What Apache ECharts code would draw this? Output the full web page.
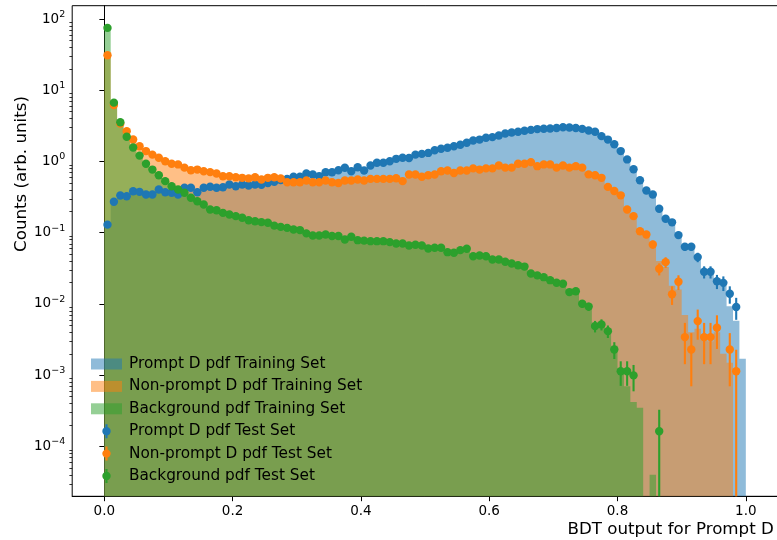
<!DOCTYPE html>
<html><head><meta charset="utf-8">
<script src="https://cdn.jsdelivr.net/npm/echarts@6/dist/echarts.min.js"></script>
<style>html,body{margin:0;padding:0;background:#fff}#c{width:777px;height:540px}</style>
</head><body><div id="c"></div>
<script>
// ---- data ----
const nBins = 100, xLow = 0, xHigh = 1;
const xTicks = [0, 0.2, 0.4, 0.6, 0.8, 1.0];
const yTicks = [1e-4, 1e-3, 1e-2, 1e-1, 1, 10, 100];
const yMin = 2e-5, yMax = 153.7;

const promptTrain = [0.12,0.28,0.33,0.34,0.36,0.37,0.37,0.37,0.38,0.38,
 0.38,0.38,0.40,0.41,0.41,0.42,0.43,0.43,0.44,0.45,
 0.45,0.46,0.46,0.47,0.48,0.50,0.52,0.54,0.57,0.59,
 0.61,0.64,0.65,0.66,0.69,0.71,0.74,0.77,0.78,0.80,
 0.82,0.86,0.92,0.96,1.01,1.07,1.11,1.15,1.22,1.27,
 1.32,1.42,1.50,1.56,1.64,1.72,1.82,1.94,2.02,2.12,
 2.2,2.3,2.44,2.53,2.61,2.69,2.77,2.83,2.87,2.9,
 2.94,3.0,2.98,2.93,2.85,2.72,2.58,2.3,2.05,1.76,
 1.42,1.08,0.8,0.56,0.4,0.33,0.22,0.16,0.135,0.095,
 0.066,0.06,0.045,0.03,0.027,0.021,0.018,0.0093,0.0058,0.0017];
const nonpromptTrain = [31,6.3,3.4,2.6,2.05,1.66,1.42,1.25,1.12,1.02,
 0.95,0.89,0.83,0.78,0.75,0.72,0.70,0.67,0.64,0.62,
 0.61,0.59,0.58,0.58,0.57,0.58,0.58,0.56,0.54,0.53,
 0.52,0.52,0.52,0.52,0.52,0.52,0.52,0.53,0.54,0.54,
 0.55,0.56,0.56,0.57,0.57,0.58,0.59,0.62,0.64,0.63,
 0.64,0.66,0.70,0.72,0.72,0.74,0.75,0.78,0.78,0.79,
 0.81,0.84,0.84,0.85,0.88,0.90,0.91,0.89,0.89,0.88,
 0.86,0.85,0.84,0.83,0.79,0.69,0.63,0.56,0.46,0.39,
 0.31,0.22,0.17,0.115,0.09,0.065,0.04,0.033,0.018,0.016,
 0.007,0.004,0.0045,0.0035,0.003,0.004,0.002,0.0015,0,0];
const bkgTrain = [75,6.6,3.5,2.25,1.58,1.2,0.94,0.77,0.64,0.54,
 0.46,0.40,0.36,0.315,0.28,0.25,0.22,0.205,0.19,0.18,
 0.17,0.16,0.152,0.145,0.14,0.135,0.127,0.121,0.116,0.111,
 0.106,0.099,0.094,0.092,0.092,0.089,0.087,0.083,0.084,0.079,
 0.077,0.076,0.075,0.074,0.072,0.071,0.069,0.067,0.066,0.065,
 0.061,0.06,0.058,0.055,0.054,0.055,0.054,0.049,0.047,0.046,
 0.043,0.041,0.039,0.037,0.035,0.032,0.028,0.025,0.023,0.021,
 0.019,0.018,0.015,0.014,0.011,0.009,0.0055,0.005,0.0042,0.0026,
 0.0012,0.0007,0.00042,0.00035,0,0.00004,0,0,0,0,
 0,0,0,0,0,0,0,0,0,0];

const promptTest = [0.13,0.272,0.333,0.326,0.383,0.375,0.344,0.344,0.405,0.371,
 0.364,0.344,0.428,0.428,0.371,0.428,0.442,0.428,0.436,0.476,
 0.45,0.476,0.46,0.476,0.47,0.50,0.52,0.55,0.57,0.61,
 0.61,0.68,0.657,0.62,0.708,0.708,0.755,0.816,0.73,0.832,
 0.748,0.88,0.96,0.96,1.01,1.09,1.13,1.12,1.25,1.28,
 1.32,1.44,1.51,1.56,1.64,1.72,1.83,1.97,2.03,2.15,
 2.2,2.32,2.47,2.55,2.62,2.7,2.78,2.85,2.88,2.9,
 2.95,3.03,3.0,2.95,2.87,2.72,2.61,2.27,2.03,1.75,
 1.40,1.07,0.78,0.546,0.392,0.344,0.217,0.157,0.14,0.0927,
 0.0636,0.0636,0.0455,0.0283,0.0283,0.0209,0.0198,0.0139,0.0091,0];
const nonpromptTest = [31,6.2,3.4,2.66,2.04,1.64,1.40,1.25,1.13,1.01,
 0.93,0.91,0.82,0.755,0.77,0.73,0.71,0.68,0.62,0.62,
 0.60,0.59,0.58,0.60,0.56,0.59,0.60,0.577,0.512,0.512,
 0.512,0.541,0.512,0.512,0.541,0.512,0.50,0.541,0.541,0.56,
 0.541,0.57,0.57,0.57,0.57,0.583,0.53,0.657,0.657,0.61,
 0.64,0.657,0.73,0.748,0.69,0.748,0.748,0.80,0.77,0.80,
 0.80,0.88,0.82,0.82,0.93,0.93,0.98,0.86,0.91,0.91,
 0.82,0.88,0.82,0.86,0.82,0.66,0.64,0.59,0.44,0.385,
 0.335,0.212,0.171,0.105,0.0946,0.0685,0.0312,0.0387,0.0137,0.0205,
 0.00343,0.0023,0.00575,0.00343,0.00343,0.00464,0,0.0023,0.00114,0];
const bkgTest = [75,6.7,3.56,2.22,1.57,1.21,0.93,0.77,0.64,0.53,
 0.45,0.405,0.364,0.31,0.277,0.249,0.212,0.207,0.19,0.18,
 0.171,0.162,0.15,0.145,0.141,0.138,0.126,0.121,0.117,0.111,
 0.109,0.098,0.0916,0.0916,0.0946,0.090,0.090,0.0805,0.0879,0.0787,
 0.0776,0.0762,0.0762,0.0762,0.0738,0.0708,0.0708,0.0663,0.068,0.0663,
 0.060,0.0615,0.0615,0.0534,0.0525,0.057,0.0596,0.0469,0.048,0.0469,
 0.0422,0.0422,0.0392,0.037,0.035,0.0335,0.0268,0.0252,0.0238,0.0216,
 0.0199,0.0192,0.0147,0.0151,0.0101,0.0092,0.00489,0.00517,0.00416,0.0023,
 0.00114,0.00114,0.000995,0,0,0,0.000164,0,0,0,
 0,0,0,0,0,0,0,0,0,0];

// error bars of the test sets (bins 80..99)
const promptTestErrTail = [0,0,0,0.024,0.0204,0.0191,0.0152,0.0129,0.0122,0.0099,
 0.0082,0.0082,0.0069,0.0055,0.0055,0.0047,0.0046,0.0038,0.0031,0];
const nonpromptTestErrTail = [0.0195,0.0155,0.014,0.0109,0.0104,0.0088,0.006,0.0066,0.004,0.0048,
 0.002,0.0016,0.0026,0.002,0.002,0.0023,0,0.0016,0.00114,0];
// error bars of background test set (bins 66..86)
const bkgTestErrTail = [0.0021,0.002,0.002,0.0019,0.0018,0.0018,0.00155,0.00157,0.00129,0.00123,
 0.0009,0.00092,0.00083,0.00061,0.00043,0.00043,0.0004,0,0,0,0.000164];

// ---- drawing ----
const FONT = 'DejaVu Sans';
const binW = (xHigh - xLow) / nBins;
const COL = { blue: '#1f77b4', orange: '#ff7f0e', green: '#2ca02c' };
const FILL = { blue: 'rgba(31,119,180,0.5)', orange: 'rgba(255,127,14,0.5)', green: 'rgba(44,160,44,0.5)' };

function errAt(tail, start, i) { const k = i - start; return (k >= 0 && k < tail.length) ? tail[k] : 0; }

function histSeries(name, vals, fill, z) {
  return {
    type: 'custom', name, coordinateSystem: 'cartesian2d', silent: true, z,
    itemStyle: { color: fill }, data: [[0.5, 1]],
    renderItem(params, api) {
      const pts = [api.coord([xLow, yMin])];
      for (let i = 0; i < vals.length; i++) {
        const v = vals[i] > yMin ? vals[i] : yMin;
        const x0 = xLow + i * binW, x1 = x0 + binW;
        pts.push(api.coord([x0, v]), api.coord([x1, v]));
      }
      pts.push(api.coord([xHigh, yMin]));
      return { type: 'polygon', shape: { points: pts }, style: { fill } };
    }
  };
}
function testSeries(name, vals, tail, start, color, z) {
  const data = [];
  vals.forEach((v, i) => { if (v > 0) data.push([xLow + (i + 0.5) * binW, v, errAt(tail, start, i)]); });
  return {
    type: 'custom', name, coordinateSystem: 'cartesian2d', silent: true, z,
    itemStyle: { color }, data,
    encode: { x: 0, y: 1 },
    renderItem(params, api) {
      const x = api.value(0), v = api.value(1), e = api.value(2);
      const c = api.coord([x, v]);
      const ch = [];
      if (e > 0) {
        const top = api.coord([x, v + e]);
        const lo = (v - e) > yMin ? v - e : yMin;
        const bot = api.coord([x, lo]);
        ch.push({ type: 'line', shape: { x1: c[0], y1: top[1], x2: c[0], y2: bot[1] }, style: { stroke: color, lineWidth: 2.1 } });
      }
      ch.push({ type: 'circle', shape: { cx: c[0], cy: c[1], r: 4.2 }, style: { fill: color } });
      return { type: 'group', children: ch };
    }
  };
}

const minorTicks = [];
for (let e = -5; e <= 2; e++) for (let k = 2; k <= 9; k++) { const v = k * Math.pow(10, e); if (v > yMin && v < yMax) minorTicks.push(v); }

function supLabel(v) {
  const e = Math.round(Math.log10(v));
  return '{b|10}{s|' + (e < 0 ? '\u2212' + (-e) : String(e)) + '}';
}

const rectIcon = 'path://M0 0L0 0M31 14L31 14M0 1.5H31V12.5H0Z';
const ptIcon = 'path://M0 0L0 0M31 14L31 14M14.45 0H16.55V14H14.45ZM19.7 7A4.2 4.2 0 1 1 11.3 7A4.2 4.2 0 1 1 19.7 7Z';

const names = ['Prompt D pdf Training Set', 'Non-prompt D pdf Training Set', 'Background pdf Training Set',
  'Prompt D pdf Test Set', 'Non-prompt D pdf Test Set', 'Background pdf Test Set'];

const chart = echarts.init(document.getElementById('c'), null, { renderer: 'canvas' });
chart.setOption({
  animation: false,
  backgroundColor: '#fff',
  textStyle: { fontFamily: FONT },
  grid: { left: 72.2, top: 5.7, width: 705.7, height: 490.6, show: true, borderColor: '#000', borderWidth: 1,
          containLabel: false, outerBoundsMode: 'none' },
  legend: {
    orient: 'vertical', left: 86, top: 351.5, itemWidth: 31, itemHeight: 14, itemGap: 7.4,
    selectedMode: false,
    textStyle: { fontFamily: FONT, fontSize: 15.3, color: '#000', lineHeight: 14, padding: [0, 0, 0, 2] },
    data: [
      { name: names[0], icon: rectIcon, itemStyle: { color: FILL.blue } },
      { name: names[1], icon: rectIcon, itemStyle: { color: FILL.orange } },
      { name: names[2], icon: rectIcon, itemStyle: { color: FILL.green } },
      { name: names[3], icon: ptIcon, itemStyle: { color: COL.blue } },
      { name: names[4], icon: ptIcon, itemStyle: { color: COL.orange } },
      { name: names[5], icon: ptIcon, itemStyle: { color: COL.green } }
    ]
  },
  xAxis: {
    type: 'value', min: -0.05, max: 1.05,
    axisLine: { lineStyle: { color: '#000', width: 1 } },
    axisTick: { customValues: xTicks, length: 4.9, lineStyle: { color: '#000', width: 1 } },
    axisLabel: { customValues: xTicks, formatter: v => v.toFixed(1), fontFamily: FONT, fontSize: 13.5, color: '#000', margin: 8 },
    splitLine: { show: false },
    name: 'BDT output for Prompt D', nameLocation: 'end', nameGap: -4, nameMoveOverlap: false,
    nameTextStyle: { fontFamily: FONT, fontSize: 16.7, color: '#000', align: 'right', verticalAlign: 'top', padding: [25, 0, 0, 0] }
  },
  yAxis: [{
    type: 'log', logBase: 10, min: yMin, max: yMax,
    axisLine: { show: true, lineStyle: { color: '#000', width: 1 } },
    axisTick: { customValues: yTicks, length: 4.9, lineStyle: { color: '#000', width: 1 } },
    axisLabel: { customValues: yTicks, formatter: supLabel, margin: 7, color: '#000',
      rich: { b: { fontFamily: FONT, fontSize: 13.5, color: '#000' },
              s: { fontFamily: FONT, fontSize: 9.5, color: '#000', padding: [0, 0, 9, 0] } } },
    splitLine: { show: false }, minorTick: { show: false },
    name: 'Counts (arb. units)', nameLocation: 'middle', nameGap: 42, nameRotate: 90, nameMoveOverlap: false,
    nameTextStyle: { fontFamily: FONT, fontSize: 16.7, color: '#000', padding: [0, 0, 0, 154] }
  }, {
    type: 'log', logBase: 10, min: yMin, max: yMax, position: 'left',
    axisLine: { show: false },
    axisTick: { show: true, customValues: minorTicks, length: 2.8, lineStyle: { color: '#000', width: 0.8 } },
    axisLabel: { show: false }, splitLine: { show: false }
  }],
  series: [
    histSeries(names[0], promptTrain, FILL.blue, 1),
    histSeries(names[1], nonpromptTrain, FILL.orange, 1),
    histSeries(names[2], bkgTrain, FILL.green, 1),
    testSeries(names[3], promptTest, promptTestErrTail, 80, COL.blue, 3),
    testSeries(names[4], nonpromptTest, nonpromptTestErrTail, 80, COL.orange, 3),
    testSeries(names[5], bkgTest, bkgTestErrTail, 66, COL.green, 3)
  ]
});
</script></body></html>
